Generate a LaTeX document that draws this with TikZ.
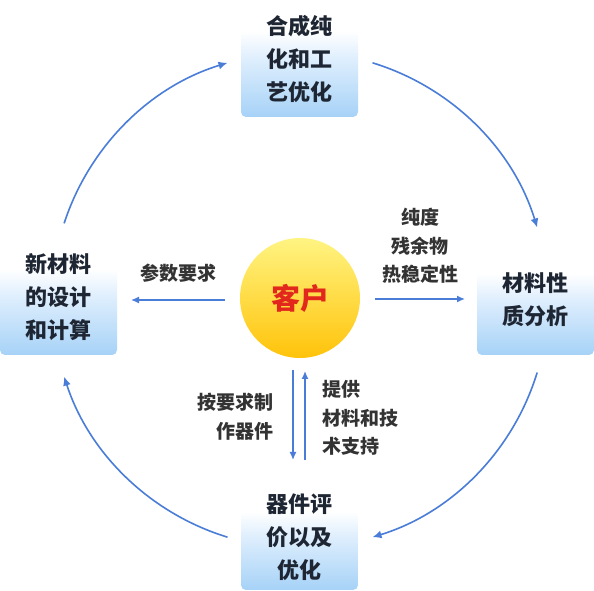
\documentclass[tikz,border=0pt]{standalone}
\usepackage{fontspec}
\setmainfont{Noto Sans CJK SC}
\usetikzlibrary{arrows.meta,calc}
\definecolor{boxblue}{RGB}{166,210,247}
\definecolor{boxmid}{RGB}{222,238,253}
\definecolor{arrowblue}{RGB}{74,125,216}
\definecolor{boxtext}{RGB}{30,38,52}
\definecolor{labeltext}{RGB}{51,51,51}
\definecolor{custred}{RGB}{226,40,28}
\definecolor{ytop}{RGB}{255,244,130}
\definecolor{ybot}{RGB}{255,195,10}
\pgfdeclareverticalshading{boxshade}{100bp}{color(0bp)=(boxblue); color(25bp)=(boxblue); color(50bp)=(boxmid); color(62bp)=(white); color(100bp)=(white)}
\pgfdeclareverticalshading{ballshade}{100bp}{color(0bp)=(ybot); color(25bp)=(ybot); color(75bp)=(ytop); color(100bp)=(ytop)}
\begin{document}
\begin{tikzpicture}[x=1pt,y=1pt,
  stagebox/.style={shading=boxshade, rounded corners=5pt, minimum width=117pt,
    text=boxtext, font=\fontsize{22}{33}\selectfont\bfseries, align=center, inner sep=0pt},
  lbl/.style={text=labeltext, font=\fontsize{19}{28.5}\selectfont\bfseries, inner sep=0pt},
  conn/.style={draw=arrowblue, line width=1.6pt, -{Latex[length=9pt,width=8pt]}},
  flow/.style={draw=arrowblue, line width=1.4pt, -{Latex[length=8pt,width=7pt]}}]
\useasboundingbox (0,0) rectangle (594,591);
\fill[white] (0,0) rectangle (594,591);
% boxes
\node[stagebox, minimum height=116pt] (top) at (299.5,532) {合成纯\\化和工\\艺优化};
\node[stagebox, minimum height=116pt] (left) at (58.5,294) {新材料\\的设计\\和计算};
\node[stagebox, minimum height=110pt] (right) at (535.5,291) {材料性\\质分析};
\node[stagebox, minimum height=106pt] (bottom) at (299.5,54) {器件评\\价以及\\优化};
% client
\node[circle, shading=ballshade, minimum size=120pt, inner sep=0pt,
  text=custred, font=\fontsize{29}{30}\selectfont\bfseries] (client) at (300,293) {客户};
% ring
\coordinate (ring) at (300,291);
\coordinate (trs) at ($(ring)+(73:248)$);
\coordinate (tls) at ($(ring)+(162:248)$);
\coordinate (brs) at ($(ring)+(-17:248)$);
\coordinate (bls) at ($(ring)+(-107:248)$);
\draw[conn] (trs) arc[start angle=73, end angle=17, radius=248];
\draw[conn] (tls) arc[start angle=162, end angle=107, radius=248];
\draw[conn] (brs) arc[start angle=-17, end angle=-73, radius=248];
\draw[conn] (bls) arc[start angle=-107, end angle=-162, radius=248];
% straight flows
\coordinate (lA) at (225,291);
\coordinate (lB) at (131,291);
\coordinate (rA) at (375,292);
\coordinate (rB) at (465,292);
\coordinate (dA) at (293,221);
\coordinate (dB) at (293,131);
\coordinate (uA) at (305,131);
\coordinate (uB) at (305,220);
\draw[flow] (lA) -- (lB);
\draw[flow] (rA) -- (rB);
\draw[flow] (dA) -- (dB);
\draw[flow] (uA) -- (uB);
% labels
\node[lbl] (lp) at (178,318) {参数要求};
\node[lbl, align=center] (lr) at (420,345) {纯度\\残余物\\热稳定性};
\node[lbl, align=left, anchor=west] (lu) at (322,173) {提供\\材料和技\\术支持};
\node[lbl, align=right, anchor=east] (ld) at (274,174.5) {按要求制\\作器件};
\end{tikzpicture}
\end{document}
